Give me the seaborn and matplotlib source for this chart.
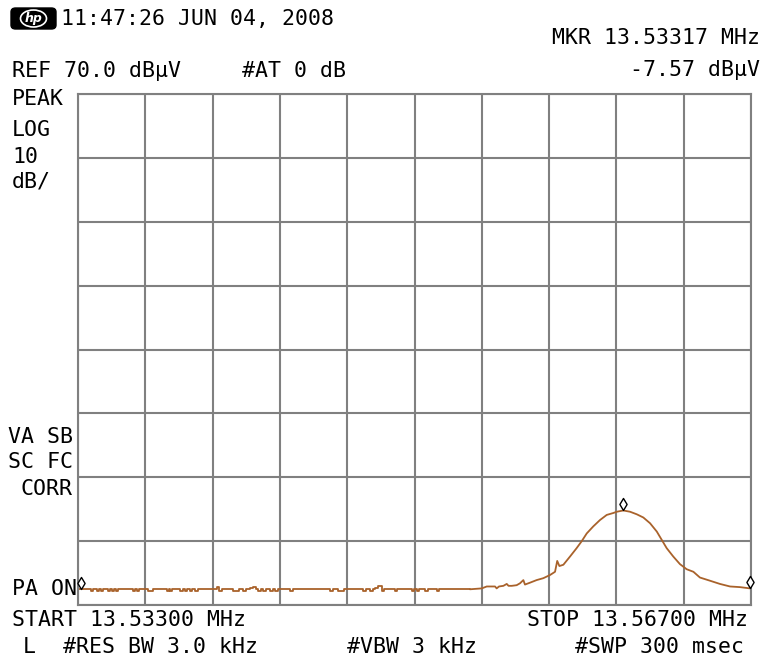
import matplotlib
matplotlib.use("Agg")
import numpy as np
import matplotlib.pyplot as plt
from matplotlib.path import Path
from matplotlib.patches import FancyBboxPatch, Ellipse
import seaborn as sns

# Sweep / display settings
start_mhz = 13.533
stop_mhz = 13.567
ref_level = 70.0
db_per_div = 10
n_hdiv = 10
n_vdiv = 8

# Noise-floor part of the trace (held between points)
floor_freq = [13.53300, 13.53364, 13.53378, 13.53394, 13.53406, 13.53415, 13.53426,
              13.53453, 13.53463, 13.53470, 13.53482, 13.53490, 13.53502, 13.53579,
              13.53590, 13.53597, 13.53608, 13.53654, 13.53679, 13.53748, 13.53760,
              13.53765, 13.53777, 13.53815, 13.53828, 13.53841, 13.53853, 13.53866,
              13.53878, 13.53891, 13.53904, 13.54001, 13.54012, 13.54025, 13.54085,
              13.54113, 13.54135, 13.54149, 13.54169, 13.54183, 13.54197, 13.54211,
              13.54225, 13.54236, 13.54250, 13.54270, 13.54283, 13.54295, 13.54308,
              13.54371, 13.54384, 13.54573, 13.54586, 13.54615, 13.54644, 13.54741,
              13.54754, 13.54775, 13.54788, 13.54800, 13.54817, 13.54834, 13.54846,
              13.54901, 13.54914, 13.54986, 13.54997, 13.55011, 13.55023, 13.55053,
              13.55066, 13.55112, 13.55124, 13.55280]
floor_level = [-7.54, -7.75, -7.54, -7.75, -7.54, -7.75, -7.54,
               -7.75, -7.54, -7.75, -7.54, -7.75, -7.54, -7.75,
               -7.54, -7.75, -7.54, -7.75, -7.54, -7.75, -7.54,
               -7.75, -7.54, -7.75, -7.54, -7.75, -7.54, -7.75,
               -7.54, -7.75, -7.54, -7.25, -7.75, -7.54, -7.75,
               -7.54, -7.75, -7.54, -7.30, -7.15, -7.54, -7.75,
               -7.54, -7.75, -7.54, -7.75, -7.54, -7.75, -7.54,
               -7.75, -7.54, -7.75, -7.54, -7.75, -7.54, -7.75,
               -7.54, -7.75, -7.54, -7.30, -7.10, -7.75, -7.54,
               -7.75, -7.54, -7.75, -7.54, -7.75, -7.54, -7.75,
               -7.54, -7.75, -7.54, -7.54]

# Carrier part of the trace around 13.56 MHz
carrier_freq = [13.55280, 13.55340, 13.55365, 13.55407, 13.55415, 13.55427, 13.55449,
                13.55466, 13.55475, 13.55491, 13.55516, 13.55533, 13.55550, 13.55558,
                13.55584, 13.55617, 13.55651, 13.55685, 13.55710, 13.55721, 13.55732,
                13.55752, 13.55786, 13.55819, 13.55845, 13.55870, 13.55903, 13.55937,
                13.55971, 13.56004, 13.56022, 13.56055, 13.56089, 13.56123, 13.56156,
                13.56190, 13.56224, 13.56249, 13.56274, 13.56307, 13.56341, 13.56375,
                13.56409, 13.56442, 13.56493, 13.56543, 13.56594, 13.56644, 13.56695,
                13.56700]
carrier_level = [-7.54, -7.40, -7.10, -7.10, -7.40, -7.10, -7.00,
                 -6.70, -7.00, -7.00, -6.90, -6.60, -6.10, -6.80,
                 -6.50, -6.10, -5.80, -5.30, -4.80, -3.10, -3.90,
                 -3.70, -2.40, -1.10, 0.00, 1.20, 2.30, 3.30,
                 4.10, 4.40, 4.60, 4.80, 4.60, 4.20, 3.70,
                 2.80, 1.50, 0.20, -1.10, -2.40, -3.60, -4.40,
                 -4.80, -5.70, -6.20, -6.70, -7.10, -7.20, -7.40,
                 -7.40]

# Marker readouts
marker_freq = [13.53317, 13.56055, 13.56694]
marker_level = [-7.57, 4.80, -7.40]

W, H = 763, 664
trace_color = "#A9622B"
grid_color = "#808080"
mono = "DejaVu Sans Mono"

sns.set_style("white")
plt.rcParams["font.family"] = [mono, "DejaVu Sans"]

fig = plt.figure(figsize=(W / 100, H / 100), dpi=100)
fig.patch.set_facecolor("white")

# Graticule box in pixel geometry
left, top, right, bottom = 78, 94, 751, 605
ax = fig.add_axes([left / W, 1 - bottom / H, (right - left) / W, (bottom - top) / H])

bottom_level = ref_level - n_vdiv * db_per_div
ax.set_xlim(start_mhz, stop_mhz)
ax.set_ylim(bottom_level, ref_level)
ax.set_xticks(np.linspace(start_mhz, stop_mhz, n_hdiv + 1))
ax.set_yticks(np.arange(bottom_level, ref_level + 1, db_per_div))
ax.grid(True, color=grid_color, linewidth=1.5)
ax.tick_params(length=0, labelbottom=False, labelleft=False)
for sp in ax.spines.values():
    sp.set_visible(True)
    sp.set_color(grid_color)
    sp.set_linewidth(1.5)
ax.set_xlabel("")
ax.set_ylabel("")

sns.lineplot(x=floor_freq, y=floor_level, ax=ax, color=trace_color, linewidth=1.3,
             drawstyle="steps-post", estimator=None, sort=False)
sns.lineplot(x=carrier_freq, y=carrier_level, ax=ax, color=trace_color, linewidth=1.3,
             estimator=None, sort=False)
ax.set_xlabel("")
ax.set_ylabel("")

# Diamond marker that sits on top of the trace point
diamond = Path([(0, 0), (0.6, 1.0), (0, 2.0), (-0.6, 1.0), (0, 0)],
               [Path.MOVETO, Path.LINETO, Path.LINETO, Path.LINETO, Path.CLOSEPOLY])
sns.scatterplot(x=marker_freq, y=marker_level, ax=ax, marker=diamond, s=300,
                facecolor="white", edgecolor="black", linewidth=1.0, zorder=5, clip_on=False)
ax.set_xlabel("")
ax.set_ylabel("")


def txt(x, y, s, ha="left"):
    fig.text(x / W, 1 - y / H, s, ha=ha, va="center", fontsize=15.5,
             family=[mono, "DejaVu Sans"], color="black")


# HP badge
badge = FancyBboxPatch((11 / W, 1 - 29 / H), 45 / W, 21 / H,
                       boxstyle="round,pad=0,rounding_size=0.006",
                       transform=fig.transFigure, facecolor="black", edgecolor="black")
fig.patches.append(badge)
ring = Ellipse((33.5 / W, 1 - 18.5 / H), 26 / W, 17 / H, transform=fig.transFigure,
               facecolor="none", edgecolor="white", linewidth=1.2)
fig.patches.append(ring)
fig.text(33.5 / W, 1 - 18.5 / H, "hp", ha="center", va="center", fontsize=9,
         style="italic", weight="bold", color="white", family="DejaVu Sans")

txt(61, 19, "11:47:26 JUN 04, 2008")
txt(760, 38, "MKR 13.53317 MHz", ha="right")
txt(12, 71, "REF 70.0 dBµV")
txt(242, 71, "#AT 0 dB")
txt(760, 70, "-7.57 dBµV", ha="right")

txt(12, 99, "PEAK")
txt(12, 130, "LOG")
txt(12, 157, "10")
txt(12, 181, "dB/")

txt(73, 437, "VA SB", ha="right")
txt(73, 462, "SC FC", ha="right")
txt(73, 489, "CORR", ha="right")
txt(12, 589, "PA ON")

txt(12, 620, "START 13.53300 MHz")
txt(748, 620, "STOP 13.56700 MHz", ha="right")
txt(23, 647, "L")
txt(63, 647, "#RES BW 3.0 kHz")
txt(347, 647, "#VBW 3 kHz")
txt(744, 647, "#SWP 300 msec", ha="right")

fig.savefig("out.png", dpi=100, facecolor="white")
